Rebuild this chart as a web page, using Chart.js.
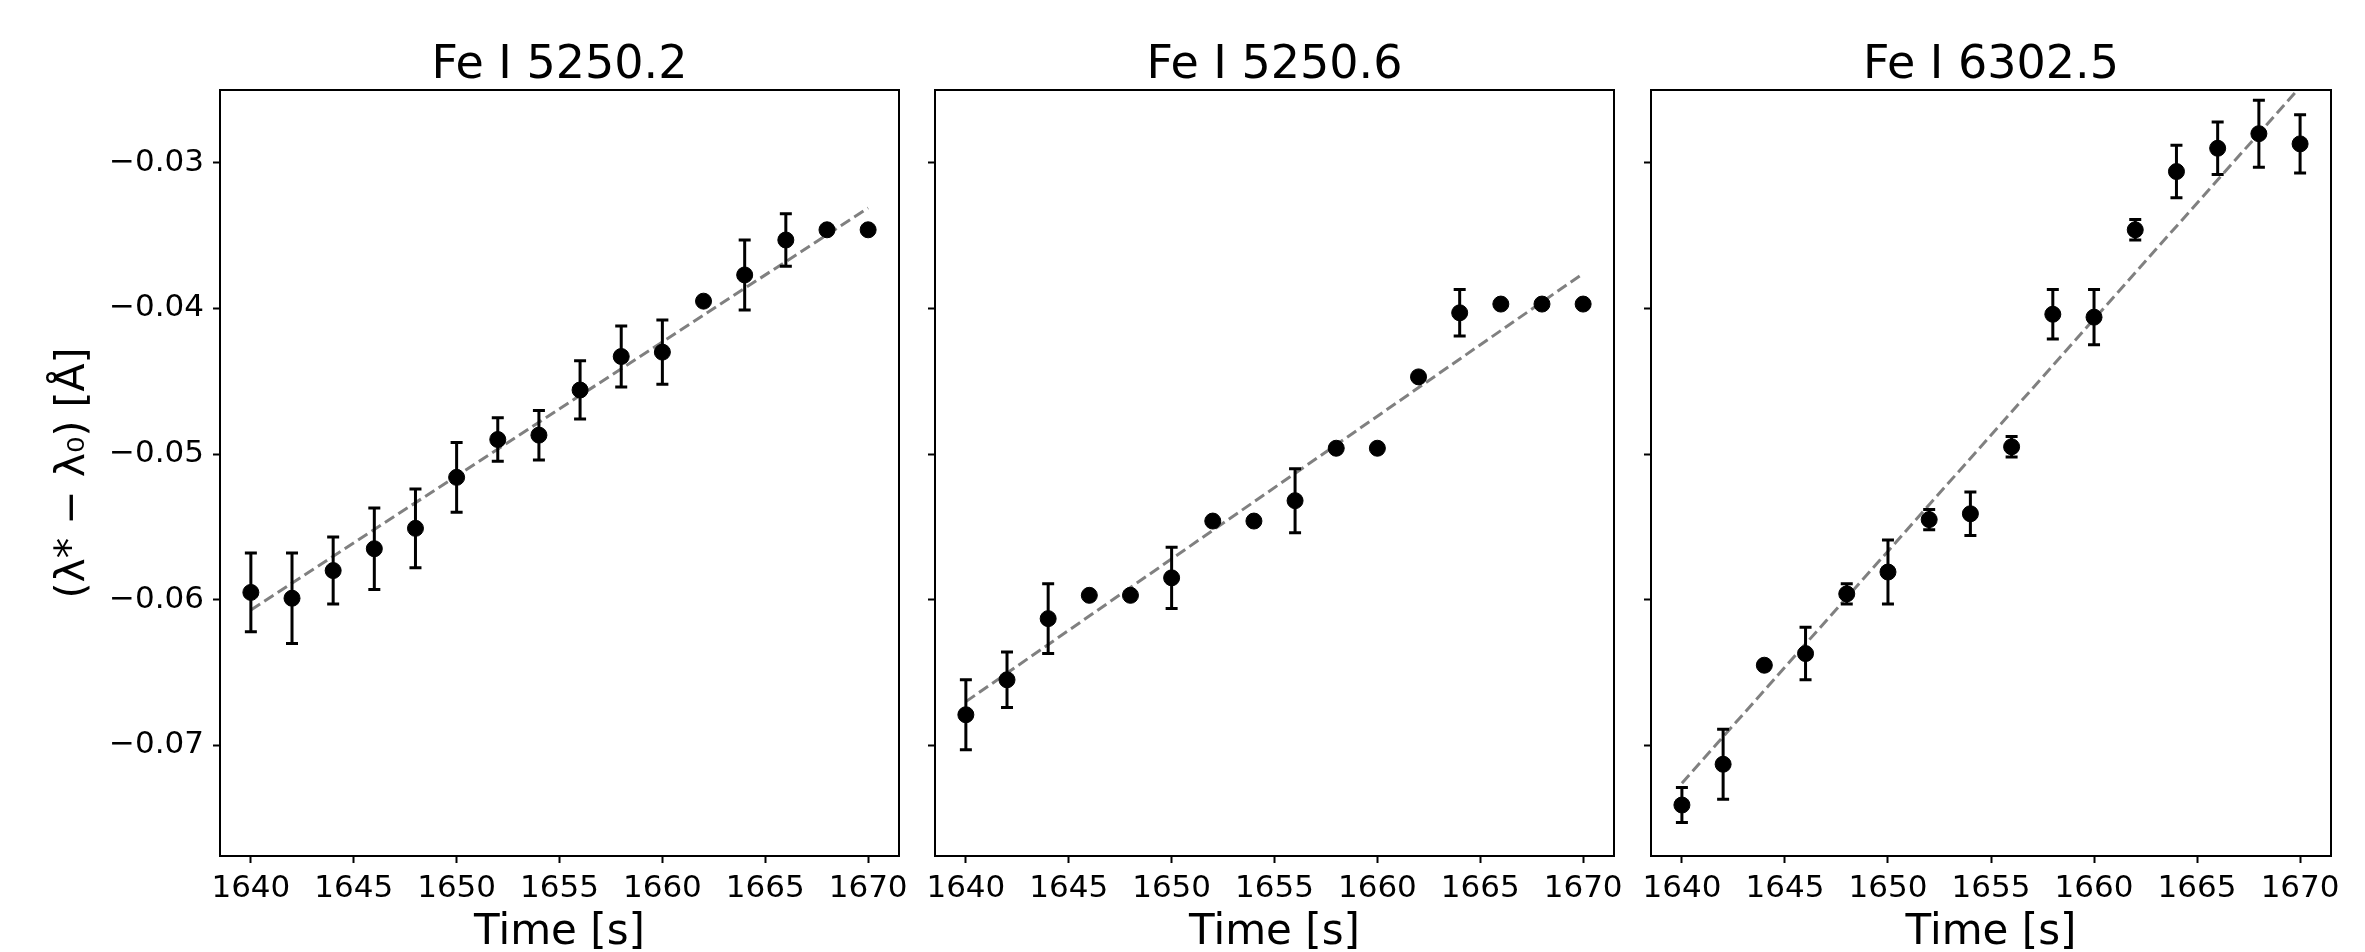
<!DOCTYPE html>
<html lang="en-US">
<head>
  <meta charset="utf-8">
  <title>Line shift vs time | Chart.js</title>
  <script src="https://cdn.jsdelivr.net/npm/chart.js@4.4.1/dist/chart.umd.min.js"></script>
  <style>
    body { margin: 0; background: #fff; }
    .wrapper { position: relative; width: 2365px; height: 952px; }
    .wrapper canvas { position: absolute; left: 0; top: 0; }
  </style>
</head>

<body>
  <div class="wrapper">
    <canvas id="chart-0" width="2365" height="952"></canvas>
    <canvas id="chart-1" width="2365" height="952"></canvas>
    <canvas id="chart-2" width="2365" height="952"></canvas>
  </div>

  <script>
    let times = [1640, 1642, 1644, 1646, 1648, 1650, 1652, 1654, 1656, 1658, 1660, 1662, 1664, 1666, 1668, 1670];

    let shift52502 = [-0.0595, -0.0599, -0.0580, -0.0565, -0.0551, -0.0516, -0.0490, -0.0487,
                      -0.0456, -0.0433, -0.0430, -0.0395, -0.0377, -0.0353, -0.0346, -0.0346];
    let err52502 = [0.0027, 0.0031, 0.0023, 0.0028, 0.0027, 0.0024, 0.0015, 0.0017,
                    0.0020, 0.0021, 0.0022, 0, 0.0024, 0.0018, 0, 0];

    let shift52506 = [-0.0679, -0.0655, -0.0613, -0.0597, -0.0597, -0.0585, -0.0546, -0.0546,
                      -0.0532, -0.0496, -0.0496, -0.0447, -0.0403, -0.0397, -0.0397, -0.0397];
    let err52506 = [0.0024, 0.0019, 0.0024, 0, 0, 0.0021, 0, 0,
                    0.0022, 0, 0, 0, 0.0016, 0, 0, 0];

    let shift63025 = [-0.0741, -0.0713, -0.0645, -0.0637, -0.0596, -0.0581, -0.0545, -0.0541,
                      -0.0495, -0.0404, -0.0406, -0.0346, -0.0306, -0.0290, -0.0280, -0.0287];
    let err63025 = [0.0012, 0.0024, 0, 0.0018, 0.0007, 0.0022, 0.0007, 0.0015,
                    0.0007, 0.0017, 0.0019, 0.0007, 0.0018, 0.0018, 0.0023, 0.0020];

    // linear fits: value at first and last time
    let fitTimes = [1640, 1670];
    let fit52502 = [-0.0607, -0.0331];
    let fit52506 = [-0.0670, -0.0376];
    let fit63025 = [-0.0726, -0.0248];

    let titles = ['Fe I 5250.2', 'Fe I 5250.6', 'Fe I 6302.5'];
    let xTicks = [1640, 1645, 1650, 1655, 1660, 1665, 1670];
    let yTicks = [-0.07, -0.06, -0.05, -0.04, -0.03];
    let xRange = [1638.5, 1671.5];
    let yRange = [-0.0776, -0.0250];

    let shifts = [shift52502, shift52506, shift63025];
    let errs = [err52502, err52506, err63025];
    let fits = [fit52502, fit52506, fit63025];

    // plot area of each panel in the page
    let W = 2365;
    let boxes = [
      {left: 220, right: 899, axis: 220},
      {left: 935, right: 1614, axis: 7},
      {left: 1651, right: 2331, axis: 7}
    ];

    Chart.defaults.font.family = '"DejaVu Sans", sans-serif';
    Chart.defaults.color = '#000';

    let errorBars = {
      id: 'errorBars',
      beforeDatasetDraw(chart, args) {
        let ds = chart.data.datasets[args.index];
        if (!ds.errors) return;
        let x = chart.scales.x, y = chart.scales.y, ctx = chart.ctx;
        ctx.save();
        ctx.strokeStyle = '#000';
        ctx.lineWidth = 3;
        ds.data.forEach(function(p, i) {
          let e = ds.errors[i];
          if (!e) return;
          let px = x.getPixelForValue(p.x);
          let top = y.getPixelForValue(p.y + e);
          let bot = y.getPixelForValue(p.y - e);
          ctx.beginPath();
          ctx.moveTo(px, top); ctx.lineTo(px, bot);
          ctx.moveTo(px - 6, top); ctx.lineTo(px + 6, top);
          ctx.moveTo(px - 6, bot); ctx.lineTo(px + 6, bot);
          ctx.stroke();
        });
        ctx.restore();
      }
    };

    let frame = {
      id: 'frame',
      afterDatasetsDraw(chart) {
        let a = chart.chartArea, ctx = chart.ctx;
        ctx.save();
        ctx.strokeStyle = '#000';
        ctx.lineWidth = 2;
        ctx.strokeRect(a.left, a.top, a.right - a.left, a.bottom - a.top);
        ctx.restore();
      }
    };

    function makeOptions(i) {
      let box = boxes[i];
      return {
        responsive: false,
        animation: false,
        events: [],
        layout: {padding: {left: box.left - box.axis, right: W - box.right, top: 0, bottom: 0}},
        plugins: {
          legend: {display: false},
          tooltip: {enabled: false},
          title: {
            display: true,
            text: titles[i],
            fullSize: false,
            color: '#000',
            font: {size: 46, weight: 'normal', lineHeight: 1},
            padding: {top: 43, bottom: 1}
          }
        },
        scales: {
          x: {
            type: 'linear',
            min: xRange[0],
            max: xRange[1],
            afterBuildTicks: function(s) { s.ticks = xTicks.map(v => ({value: v})); },
            afterFit: function(s) { s.height = 96; },
            grid: {drawOnChartArea: false, color: '#000', tickLength: 7, tickWidth: 2},
            border: {display: false},
            ticks: {
              color: '#000',
              font: {size: 31},
              padding: 7,
              maxRotation: 0,
              autoSkip: false,
              callback: v => String(v)
            },
            title: {
              display: true,
              text: 'Time [s]',
              color: '#000',
              font: {size: 42, lineHeight: 0.8},
              padding: {top: 0, bottom: 2}
            }
          },
          y: {
            type: 'linear',
            min: yRange[0],
            max: yRange[1],
            afterBuildTicks: function(s) { s.ticks = yTicks.map(v => ({value: v})); },
            afterFit: function(s) { s.width = box.axis; },
            grid: {drawOnChartArea: false, color: '#000', tickLength: 7, tickWidth: 2},
            border: {display: false},
            ticks: {
              display: i === 0,
              color: '#000',
              font: {size: 31},
              padding: 9,
              callback: v => v.toFixed(2).replace('-', '\u2212')
            },
            title: {
              display: i === 0,
              text: '(\u03bb* \u2212 \u03bb\u2080) [\u00c5]',
              color: '#000',
              font: {size: 41},
              padding: {top: 49, bottom: 0}
            }
          }
        }
      };
    }

    let charts = titles.map(function(t, i) {
      return new Chart('chart-' + i, {
        type: 'scatter',
        data: {
          datasets: [
            {
              type: 'line',
              data: fitTimes.map((x, j) => ({x: x, y: fits[i][j]})),
              borderColor: '#808080',
              borderWidth: 3,
              borderDash: [11, 5],
              pointRadius: 0,
              fill: false,
              order: 2
            },
            {
              data: times.map((x, j) => ({x: x, y: shifts[i][j]})),
              errors: errs[i],
              pointRadius: 8,
              backgroundColor: '#000',
              borderColor: '#000',
              borderWidth: 1,
              order: 1
            }
          ]
        },
        options: makeOptions(i),
        plugins: [errorBars, frame]
      });
    });
  </script>
</body>
</html>
